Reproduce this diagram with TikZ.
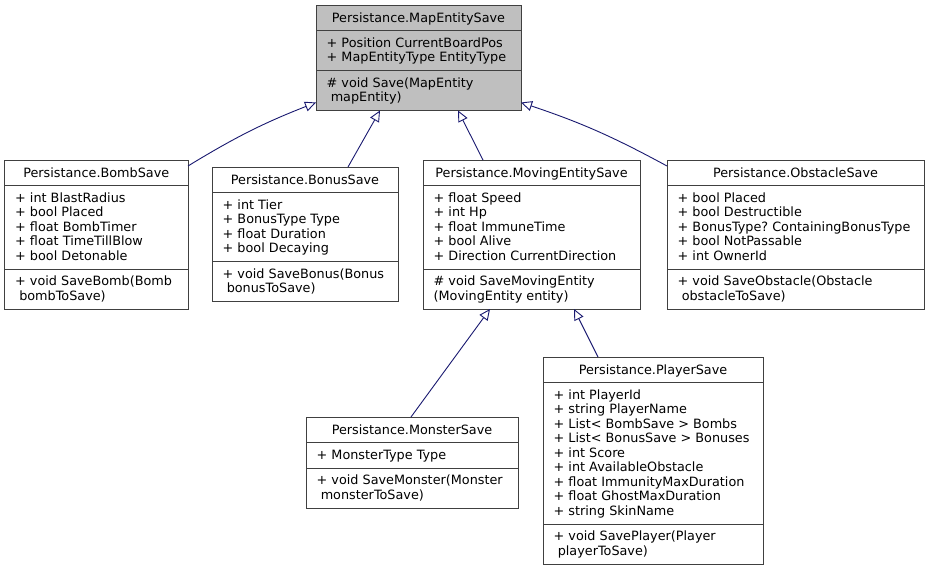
\documentclass[tikz,border=0pt]{standalone}
\usepackage{fontspec}
\setmainfont{DejaVu Sans}
\usetikzlibrary{arrows.meta,calc,fit}

\definecolor{edgeblue}{HTML}{191970}
\definecolor{boxline}{HTML}{404040}
\definecolor{basefill}{HTML}{BFBFBF}

\newcommand\umlfont{\fontsize{12.8}{14.5}\selectfont\frenchspacing}
\newcommand\lead{\hspace*{0.318em}}

\tikzset{
  classfill/.style={fill=white},
  classbox/.style={draw=boxline, line width=1pt, inner sep=0pt, outer sep=0pt, classfill},
  classline/.style={draw=boxline, line width=1pt},
  classtitle/.style={anchor=base, inner sep=0pt, font=\umlfont},
  member/.style={anchor=base west, inner sep=0pt, font=\umlfont},
  inherit/.style={draw=edgeblue, line width=0.9pt,
    -{Triangle[length=11pt, width=10pt, fill=white]}},
}

% #1 name, #2 left, #3 top, #4 width, #5 title,
% #6 number of attribute lines, #7 attributes, #8 number of method lines, #9 methods
\newcommand\umlclass[9]{%
  \pgfmathsetmacro\secA{14.5*#6+11}%
  \pgfmathsetmacro\secM{14.5*#8+11}%
  \node[classbox, fit={(#2,#3) ({#2+#4},{#3+25.5+\secA+\secM})}] (#1) {};
  \draw[classline] (#2,{#3+25.5}) -- ({#2+#4},{#3+25.5});
  \draw[classline] (#2,{#3+25.5+\secA}) -- ({#2+#4},{#3+25.5+\secA});
  \node[classtitle] (#1-title) at ({#2+#4/2},{#3+17}) {#5};
  \foreach \memb [count=\i] in {#7}
    \node[member] (#1-a\i) at ({#2+10.5},{#3+25.5+16.5+14.5*(\i-1)}) {\memb};
  \foreach \memb [count=\i] in {#9}
    \node[member] (#1-m\i) at ({#2+10.5},{#3+25.5+\secA+16.5+14.5*(\i-1)}) {\memb};
}

\begin{document}
\begin{tikzpicture}[x=1pt, y=-1pt]
  \useasboundingbox (0,0) rectangle (930,573);

  % base class
  \tikzset{classfill/.style={fill=basefill}}
  \umlclass{map}{316}{5}{205}{Persistance.MapEntitySave}
    {2}{+ Position CurrentBoardPos, + MapEntityType EntityType}
    {2}{\# void Save(MapEntity, \lead mapEntity)}
  \tikzset{classfill/.style={fill=white}}

  % derived classes
  \umlclass{bomb}{4.5}{160}{183.5}{Persistance.BombSave}
    {5}{+ int BlastRadius, + bool Placed, + float BombTimer, + float TimeTillBlow, + bool Detonable}
    {2}{+ void SaveBomb(Bomb, \lead bombToSave)}

  \umlclass{bonus}{212}{167}{186}{Persistance.BonusSave}
    {4}{+ int Tier, + BonusType Type, + float Duration, + bool Decaying}
    {2}{+ void SaveBonus(Bonus, \lead bonusToSave)}

  \umlclass{moving}{423}{160}{217}{Persistance.MovingEntitySave}
    {5}{+ float Speed, + int Hp, + float ImmuneTime, + bool Alive, + Direction CurrentDirection}
    {2}{\# void SaveMovingEntity, (MovingEntity entity)}

  \umlclass{obstacle}{667}{160}{257}{Persistance.ObstacleSave}
    {5}{+ bool Placed, + bool Destructible, + BonusType? ContainingBonusType, + bool NotPassable, + int OwnerId}
    {2}{+ void SaveObstacle(Obstacle, \lead obstacleToSave)}

  \umlclass{monster}{306}{417}{212}{Persistance.MonsterSave}
    {1}{+ MonsterType Type}
    {2}{+ void SaveMonster(Monster, \lead monsterToSave)}

  \umlclass{player}{543}{357}{220}{Persistance.PlayerSave}
    {9}{+ int PlayerId, + string PlayerName, + List< BombSave > Bombs, + List< BonusSave > Bonuses,
        + int Score, + int AvailableObstacle, + float ImmunityMaxDuration, + float GhostMaxDuration,
        + string SkinName}
    {2}{+ void SavePlayer(Player, \lead playerToSave)}

  % inheritance
  \draw[inherit] ($(bomb.north east)+(0,6)$) to[bend left=5] ($(map.south west)+(0,-8)$);
  \draw[inherit] ($(bonus.north west)+(136,0)$) -- ($(map.south west)+(64,0)$);
  \draw[inherit] ($(moving.north west)+(60,0)$) -- ($(map.south west)+(142,0)$);
  \draw[inherit] ($(obstacle.north west)+(0,6)$) to[bend right=5] ($(map.south east)+(0,-8)$);
  \draw[inherit] ($(monster.north west)+(105,0)$) -- ($(moving.south west)+(67,0)$);
  \draw[inherit] ($(player.north west)+(55,0)$) -- ($(moving.south west)+(151,0)$);
\end{tikzpicture}
\end{document}
